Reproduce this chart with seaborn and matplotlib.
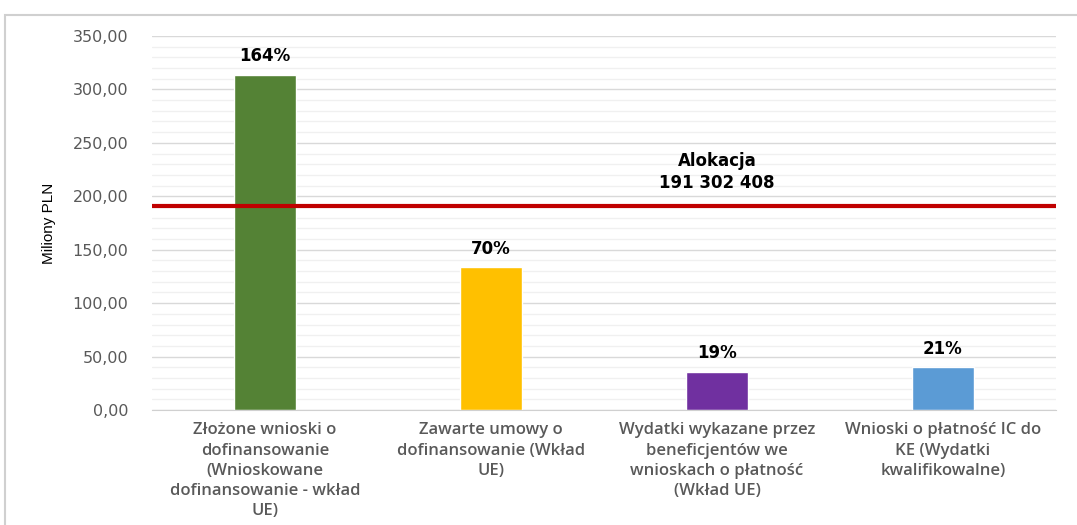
import matplotlib
matplotlib.use('Agg')
import matplotlib.pyplot as plt
import seaborn as sns
import pandas as pd
from matplotlib.patches import Rectangle
from matplotlib.ticker import MultipleLocator, FuncFormatter

# data (mln PLN)
categories = [
    'Złożone wnioski o\ndofinansowanie\n(Wnioskowane\ndofinansowanie - wkład\nUE)',
    'Zawarte umowy o\ndofinansowanie (Wkład\nUE)',
    'Wydatki wykazane przez\nbeneficjentów we\nwnioskach o płatność\n(Wkład UE)',
    'Wnioski o płatność IC do\nKE (Wydatki\nkwalifikowalne)',
]
values = [313.5, 133.5, 36.0, 40.0]
pct_labels = ['164%', '70%', '19%', '21%']
bar_colors = ['#548235', '#FFC000', '#7030A0', '#5B9BD5']
allocation = 191.302408
allocation_label = 'Alokacja\n191 302 408'

sns.set_style('white')
plt.rcParams['font.family'] = ['DejaVu Sans']

df = pd.DataFrame({'cat': categories, 'val': values})

fig = plt.figure(figsize=(10.77, 5.25), dpi=100)
fig.patches.append(Rectangle((5 / 1077, -0.01), 1.0, 1 - 15 / 525 + 0.01,
                             transform=fig.transFigure, fill=False,
                             edgecolor='#d0d0d0', linewidth=1.5))
ax = fig.add_axes([152 / 1077, 1 - 410 / 525, (1056 - 152) / 1077, (410 - 36) / 525])

sns.barplot(data=df, x='cat', y='val', hue='cat', palette=bar_colors,
            width=0.27, legend=False, ax=ax, saturation=1)

ax.set_ylim(0, 350)
ax.set_xlim(-0.5, 3.5)
ax.yaxis.set_major_locator(MultipleLocator(50))
ax.yaxis.set_minor_locator(MultipleLocator(10))
ax.yaxis.set_major_formatter(FuncFormatter(lambda v, p: f'{v:.2f}'.replace('.', ',')))
ax.grid(axis='y', which='major', color='#d9d9d9', linewidth=1)
ax.grid(axis='y', which='minor', color='#f0f0f0', linewidth=1)
ax.set_axisbelow(True)

for s in ['top', 'right', 'left']:
    ax.spines[s].set_visible(False)
ax.spines['bottom'].set_color('#d0d0d0')

ax.tick_params(axis='y', which='both', length=0, labelsize=11.5, labelcolor='#595959', pad=17)
ax.set_xticks(range(len(categories)))
ax.set_xticklabels(categories, fontsize=12, color='#595959', linespacing=1.34, va='top',
                   family=['Open Sans', 'DejaVu Sans'], fontweight='semibold')
ax.tick_params(axis='x', which='major', length=0, pad=9)
ax.set_xticks([-0.5, 0.5, 1.5, 2.5, 3.5], minor=True)
ax.tick_params(axis='x', which='minor', length=6, color='#d0d0d0', width=1)

ax.set_xlabel('')
ax.set_ylabel('Miliony PLN', fontsize=11, family=['Liberation Sans', 'DejaVu Sans'],
              color='black', labelpad=12)

for i, (v, t) in enumerate(zip(values, pct_labels)):
    ax.annotate(t, (i, v), xytext=(0, 7), textcoords='offset points',
                ha='center', va='bottom', fontsize=12, fontweight='bold', color='black')

ax.axhline(allocation, color='#C00000', linewidth=3)
ax.annotate(allocation_label, (2, allocation), xytext=(0, 10), textcoords='offset points',
            ha='center', va='bottom', fontsize=12, fontweight='bold', color='black',
            linespacing=1.25)

fig.savefig('out.png', dpi=100)
